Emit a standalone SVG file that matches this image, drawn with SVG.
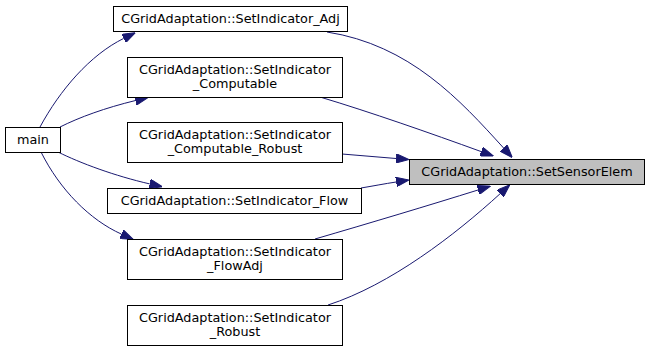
<svg xmlns="http://www.w3.org/2000/svg" width="649" height="351" viewBox="0 0 649 351">
  <style>
    .node rect { fill: #ffffff; stroke: #000000; stroke-width: 1; }
    .node.hl rect { fill: #bfbfbf; }
    .node text { font-family: "DejaVu Sans", "Liberation Sans", sans-serif; font-size: 12.8px; text-anchor: middle; fill: #000000; }
    .edge { fill: none; stroke: #191970; stroke-width: 1; marker-end: url(#arrow); }
  </style>
  <defs>
    <marker id="arrow" viewBox="0 0 13 9.4" refX="0" refY="4.7" markerWidth="13" markerHeight="9.4" markerUnits="userSpaceOnUse" orient="auto">
      <path d="M0,0 L13,4.7 L0,9.4 z" fill="#191970" stroke="#191970" stroke-width="1"/>
    </marker>
  </defs>
  <rect width="649" height="351" fill="#ffffff"/>

  <g id="edges">
    <!-- callers -> SetSensorElem -->
    <path class="edge" d="M 327,32 C 410,45 460,100 503.6,148"/>
    <path class="edge" d="M 320,97 C 370,112 430,133 481.2,151.6"/>
    <path class="edge" d="M 342,154 C 360,155.5 378,157 396.1,158.5"/>
    <path class="edge" d="M 361,188 C 373,186 385,183.7 396.15,182"/>
    <path class="edge" d="M 315,239 C 370,223 430,205 478,190"/>
    <path class="edge" d="M 328,305 C 390,285 455,235 500.25,193.6"/>
    <!-- main -> callers -->
    <path class="edge" d="M 40,127 C 60,90 90,55 123.7,38.4"/>
    <path class="edge" d="M 60,127 C 80,117 105,108 135.5,100.5"/>
    <path class="edge" d="M 58,152 C 80,163 115,176 149.7,183.9"/>
    <path class="edge" d="M 41,152 C 60,190 90,220 121.4,234.1"/>
  </g>

  <g id="node-SetSensorElem" class="node hl">
    <rect x="409.5" y="159.5" width="235" height="25"/>
    <text x="527" y="176">CGridAdaptation::SetSensorElem</text>
  </g>
  <g id="node-SetIndicator_Adj" class="node">
    <rect x="113.5" y="6.5" width="234" height="25"/>
    <text x="230.5" y="23">CGridAdaptation::SetIndicator_Adj</text>
  </g>
  <g id="node-SetIndicator_Computable" class="node">
    <rect x="127.5" y="57.5" width="215" height="40"/>
    <text x="235" y="74">CGridAdaptation::SetIndicator</text>
    <text x="235" y="88">_Computable</text>
  </g>
  <g id="node-SetIndicator_Computable_Robust" class="node">
    <rect x="127.5" y="122.5" width="215" height="40"/>
    <text x="235" y="139">CGridAdaptation::SetIndicator</text>
    <text x="235" y="153">_Computable_Robust</text>
  </g>
  <g id="node-SetIndicator_Flow" class="node">
    <rect x="107.5" y="188.5" width="254" height="25"/>
    <text x="234.5" y="205">CGridAdaptation::SetIndicator_Flow</text>
  </g>
  <g id="node-SetIndicator_FlowAdj" class="node">
    <rect x="127.5" y="239.5" width="215" height="40"/>
    <text x="235" y="256">CGridAdaptation::SetIndicator</text>
    <text x="235" y="270">_FlowAdj</text>
  </g>
  <g id="node-SetIndicator_Robust" class="node">
    <rect x="127.5" y="305.5" width="215" height="40"/>
    <text x="235" y="322">CGridAdaptation::SetIndicator</text>
    <text x="235" y="336">_Robust</text>
  </g>
  <g id="node-main" class="node">
    <rect x="5.5" y="127.5" width="55" height="25"/>
    <text x="33" y="144">main</text>
  </g>
</svg>
